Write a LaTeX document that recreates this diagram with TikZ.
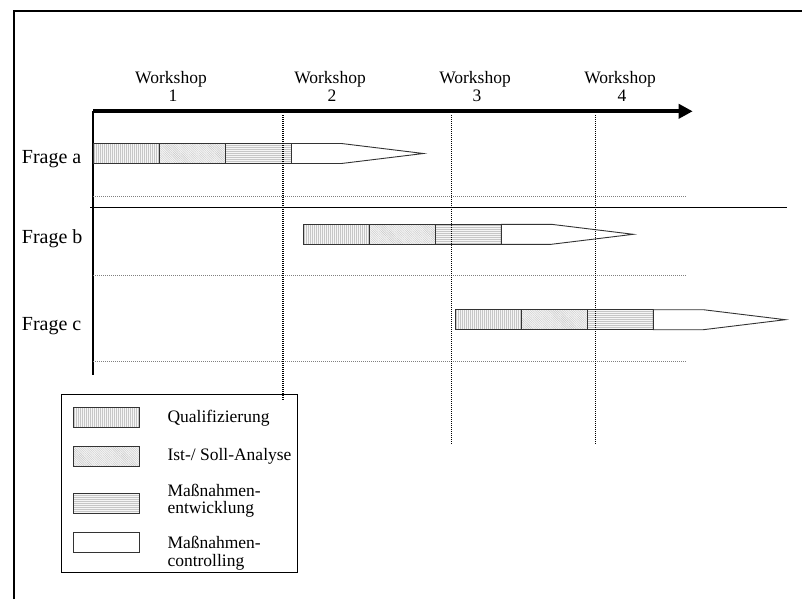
\documentclass[tikz,border=0pt]{standalone}
\usepackage{fontspec}
\setmainfont{Liberation Serif}
\usetikzlibrary{arrows.meta,patterns.meta}

\tikzset{
  txt/.style={font=\fontsize{17.5}{17.7}\selectfont, inner sep=0pt},
  frage/.style={font=\fontsize{20}{22}\selectfont, inner sep=0pt, anchor=base west},
  frame/.style={line width=2.5pt},
  timeaxis/.style={line width=4pt, -{Triangle[length=14pt,width=14pt]}},
  wsline/.style={line width=1.6pt, dash pattern=on 1pt off 1pt},
  rowsep/.style={gray, line width=0.8pt, dash pattern=on 1pt off 1pt},
  seg/.style={draw=black!80, line width=0.9pt, preaction={fill=gray!8}, pattern color=gray!45},
  quali/.style={seg, pattern={Lines[angle=90,distance=2pt,line width=0.4pt]}},
  analyse/.style={seg, pattern={Lines[angle=-45,distance=1.6pt,line width=0.4pt]}},
  entw/.style={seg, pattern={Lines[angle=0,distance=2pt,line width=0.4pt]}},
  ctrl/.style={draw=black!80, line width=0.9pt, fill=white},
}

% one phase bar: three hatched blocks, then the tapering controlling part
\newcommand\phasenbalken[2]{%
  \begin{scope}[shift={(#1,#2)}]
    \path[quali]   (0,0)   rectangle (66,20);
    \path[analyse] (66,0)  rectangle (132,20);
    \path[entw]    (132,0) rectangle (198,20);
    \draw[ctrl] (198,0) -- (248,0) -- (330,10) -- (248,20) -- (198,20) -- cycle;
  \end{scope}}

\begin{document}
\begin{tikzpicture}[x=1pt,y=-1pt]
\useasboundingbox (0,0) rectangle (802,599);

% outer frame (top and left edges)
\draw[frame] (14,599) -- (14,11) -- (802,11);

% workshop labels
\foreach \n/\x in {1/171,2/330,3/475,4/620}{
  \node[txt, anchor=base] (ws\n) at (\x,83.5) {Workshop};
  \node[txt, anchor=base] (wsn\n) at (\x+2,102) {\n};
}

% time axis
\coordinate (t0) at (93,111.3);
\coordinate (t1) at (692.7,111.3);
\draw[timeaxis] (t0) -- (t1);
\draw[line width=1.3pt] (93,111.3) -- (93,375);

% separator between the rows
\draw[line width=1.5pt] (90,207.7) -- (787,207.7);
\foreach \y in {196,275,361.7}
  \draw[rowsep] (93,\y) -- (686,\y);

% question labels
\node[frage] (fa) at (21.7,163.3) {Frage a};
\node[frage] (fb) at (21.7,243.3) {Frage b};
\node[frage] (fc) at (21.7,330) {Frage c};

% phase bars
\phasenbalken{93.5}{143.5}
\phasenbalken{303.3}{224.3}
\phasenbalken{455.3}{309.7}

% workshop dates
\draw[wsline] (283,115) -- (283,400);
\draw[wsline] (451.5,115) -- (451.5,445);
\draw[wsline] (595.5,115) -- (595.5,445);

% legend
\draw[line width=0.9pt] (61,394.3) rectangle (297.7,572.3);
\path[quali]   (73.3,407.3) rectangle (139.3,427.3);
\path[analyse] (73.3,446.7) rectangle (139.3,466.7);
\path[entw]    (73.3,493.3) rectangle (139.3,513.3);
\draw[ctrl]    (73.3,532.7) rectangle (139.3,552.7);
\node[txt, anchor=base west] (lq) at (167.3,422.3) {Qualifizierung};
\node[txt, anchor=base west] (la) at (167.3,460.5) {Ist-/ Soll-Analyse};
\node[txt, anchor=base west] (le1) at (167.3,496) {Maßnahmen-};
\node[txt, anchor=base west] (le2) at (167.3,513.7) {entwicklung};
\node[txt, anchor=base west] (lc1) at (167.3,548.3) {Maßnahmen-};
\node[txt, anchor=base west] (lc2) at (167.3,566) {controlling};
\end{tikzpicture}
\end{document}
